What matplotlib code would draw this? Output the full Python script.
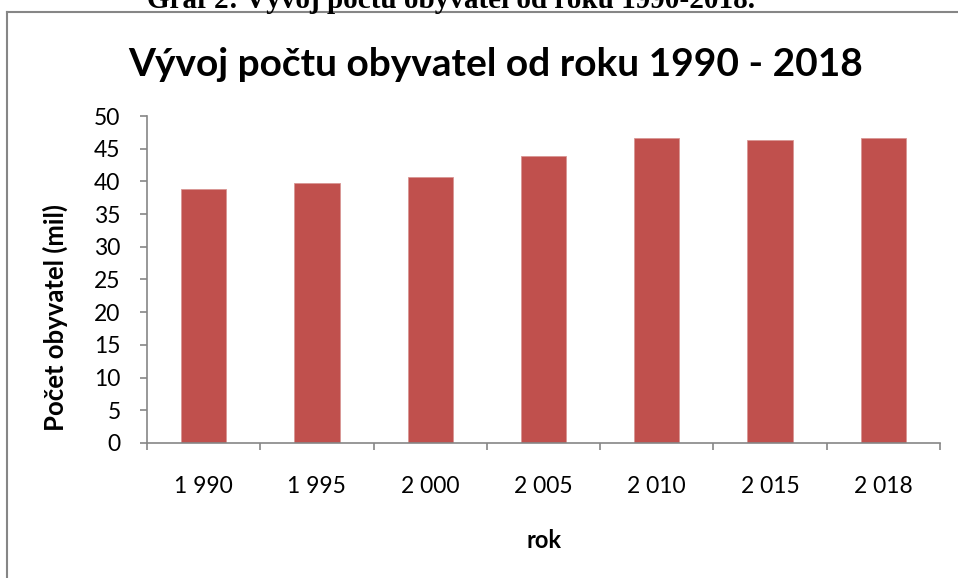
import numpy as np
import matplotlib
matplotlib.use("Agg")
import matplotlib.pyplot as plt
from matplotlib.lines import Line2D

years = ['1 990', '1 995', '2 000', '2 005', '2 010', '2 015', '2 018']
population = [38.8, 39.7, 40.6, 43.9, 46.6, 46.3, 46.6]
yticks = [0, 5, 10, 15, 20, 25, 30, 35, 40, 45, 50]

plt.rcParams['font.family'] = ['Lato', 'DejaVu Sans']

fig = plt.figure(figsize=(9.58, 5.78), dpi=100)
ax = fig.add_axes([0.1534, 0.2336, 0.9812 - 0.1534, 0.7993 - 0.2336])

x = np.arange(len(years))
ax.bar(x, population, width=0.4, color='#C0504D', edgecolor='#D99694', linewidth=0.6)

grey = '#868686'
ax.set_xlim(-0.5, len(years) - 0.5)
ax.set_ylim(0, 50)
ax.set_yticks(yticks)
ax.set_xticks(x, years)
ax.set_xticks(np.arange(len(years) + 1) - 0.5, minor=True)

for s in ['top', 'right']:
    ax.spines[s].set_visible(False)
for s in ['left', 'bottom']:
    ax.spines[s].set_color(grey)
    ax.spines[s].set_linewidth(1.2)

ax.tick_params(axis='y', direction='out', length=5, width=1.2, color=grey,
               labelsize=16.5, pad=14)
ax.tick_params(axis='x', which='major', length=0, labelsize=16.5, pad=23.5)
ax.tick_params(axis='x', which='minor', direction='out', length=5, width=1.2, color=grey)

ax.set_ylabel('Počet obyvatel (mil)', fontsize=18.5, fontweight='bold')
ax.yaxis.set_label_coords(-0.1, 0.385)
fig.text(0.568, 1 - 541 / 578, 'rok', fontsize=17, fontweight='bold',
         ha='center', va='center')

fig.text(0.517, 1 - 65 / 578, 'Vývoj počtu obyvatel od roku 1990 - 2018',
         fontsize=28, fontweight='bold', ha='center', va='center')

# page caption, cut off by the crop
fig.text(451 / 958, 1 - 8 / 578, 'Graf 2: Vývoj počtu obyvatel od roku 1990-2018.',
         fontsize=21, fontweight='bold', family='Liberation Serif',
         ha='center', va='baseline')

# outer chart frame
fx = 7 / 958
fy = 1 - 12 / 578
fig.add_artist(Line2D([fx, fx], [0, fy], color=grey, lw=1.5, transform=fig.transFigure))
fig.add_artist(Line2D([fx, 1], [fy, fy], color=grey, lw=1.5, transform=fig.transFigure))

fig.savefig('out.png', dpi=100)
